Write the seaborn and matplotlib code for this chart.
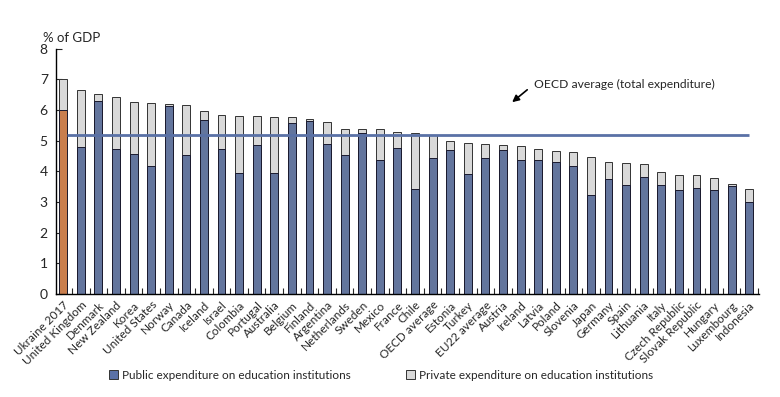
import pandas as pd
import matplotlib.pyplot as plt
import matplotlib.ticker as mticker
from matplotlib.patches import Patch
import seaborn as sns

sns.set_style("white")
plt.rcParams["font.family"] = ["Lato", "DejaVu Sans"]

countries = ['Ukraine 2017', 'United Kingdom', 'Denmark', 'New Zealand', 'Korea', 'United States',
             'Norway', 'Canada', 'Iceland', 'Israel', 'Colombia', 'Portugal', 'Australia', 'Belgium',
             'Finland', 'Argentina', 'Netherlands', 'Sweden', 'Mexico', 'France', 'Chile',
             'OECD average', 'Estonia', 'Turkey', 'EU22 average', 'Austria', 'Ireland', 'Latvia',
             'Poland', 'Slovenia', 'Japan', 'Germany', 'Spain', 'Lithuania', 'Italy',
             'Czech Republic', 'Slovak Republic', 'Hungary', 'Luxembourg', 'Indonesia']

# total expenditure (% of GDP)
total = [7.0, 6.65, 6.51, 6.42, 6.27, 6.23, 6.19, 6.16, 5.98, 5.85, 5.82, 5.82, 5.78, 5.76,
         5.72, 5.62, 5.39, 5.39, 5.37, 5.29, 5.26, 5.2, 4.99, 4.94, 4.9, 4.87, 4.82, 4.72,
         4.67, 4.63, 4.46, 4.3, 4.27, 4.24, 3.99, 3.88, 3.87, 3.79, 3.59, 3.42]

# public expenditure (% of GDP)
public = [6.0, 4.78, 6.29, 4.74, 4.56, 4.18, 6.14, 4.52, 5.67, 4.74, 3.95, 4.87, 3.93, 5.57,
          5.65, 4.88, 4.52, 5.25, 4.37, 4.77, 3.42, 4.45, 4.69, 3.9, 4.44, 4.71, 4.36, 4.37,
          4.3, 4.16, 3.22, 3.74, 3.55, 3.8, 3.56, 3.4, 3.44, 3.38, 3.51, 3.0]

oecd_total = 5.2

blue = '#5a71a6'
grey = '#d9d9d9'
orange = '#de7a38'

df = pd.DataFrame({'country': countries, 'total': total, 'public': public})
bar_colors = [orange if c == 'Ukraine 2017' else blue for c in countries]

fig, ax = plt.subplots(figsize=(7.8, 3.97), dpi=100)
plt.subplots_adjust(left=0.072, right=0.973, bottom=0.26, top=0.877)

# OECD average line (drawn under Ukraine bar)
ax.hlines(oecd_total, 0.2, len(countries) - 1, color=blue, linewidth=2, zorder=5)

# private part = grey bar up to total, public bar drawn over it
sns.barplot(data=df, x='country', y='total', color=grey, edgecolor='#333333',
            linewidth=0.7, width=0.45, ax=ax)
sns.barplot(data=df, x='country', y='public', hue='country', palette=bar_colors,
            edgecolor='#1a1a2e', linewidth=0.7, width=0.45, legend=False, ax=ax)

ax.annotate('', xy=(25.4, 6.2), xytext=(26.5, 6.72),
            arrowprops=dict(arrowstyle='-|>', color='black', lw=1.2, mutation_scale=10))
ax.text(26.75, 6.85, 'OECD average (total expenditure)', fontsize=8.7, ha='left', va='center')

ax.set_xlim(-0.4, 39.55)
ax.set_ylim(0, 8)
ax.set_yticks(range(0, 9))
ax.set_xlabel(None)
ax.set_ylabel(None)
ax.set_xticks(range(len(countries)))
ax.set_xticklabels(countries, rotation=45, ha='right', rotation_mode='anchor', fontsize=8.5)
ax.xaxis.set_minor_locator(mticker.FixedLocator([i + 0.5 for i in range(len(countries))]))
ax.tick_params(axis='x', which='major', length=0, pad=4)
ax.tick_params(axis='x', which='minor', direction='in', length=4, width=0.8, bottom=True)
ax.tick_params(axis='y', direction='in', length=4, width=0.8, left=True, labelsize=10, pad=6)

for s in ['top', 'right']:
    ax.spines[s].set_visible(False)
for s in ['left', 'bottom']:
    ax.spines[s].set_color('black')
    ax.spines[s].set_linewidth(1)

fig.text(0.055, 0.905, '% of GDP', fontsize=9.5, ha='left', va='center')

handles = [Patch(facecolor=blue, edgecolor='#333333', linewidth=0.7),
           Patch(facecolor=grey, edgecolor='#333333', linewidth=0.7)]
labels = ['Public expenditure on education institutions', 'Private expenditure on education institutions']
fig.legend(handles, labels, loc='center', bbox_to_anchor=(0.489, 0.055), ncol=2, frameon=False,
           fontsize=8.5, handlelength=0.7, handleheight=0.7, handletextpad=0.4, columnspacing=4.7)

plt.savefig('out.png', dpi=100)
